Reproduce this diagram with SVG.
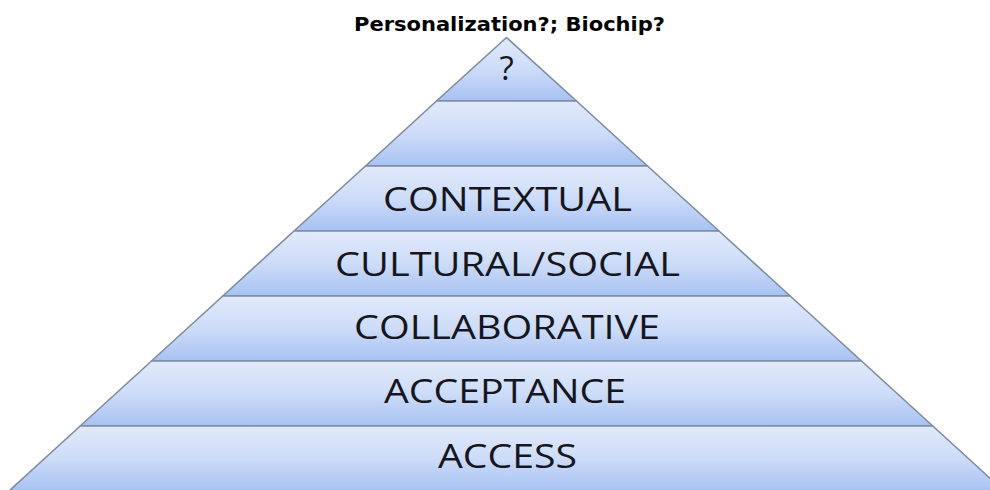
<svg xmlns="http://www.w3.org/2000/svg" width="990" height="490" viewBox="0 0 990 490">
  <defs>
    <linearGradient id="layerGrad" x1="0" y1="0" x2="0" y2="1">
      <stop offset="0" stop-color="#e2eafb"/>
      <stop offset="0.5" stop-color="#cddcf8"/>
      <stop offset="1" stop-color="#a7c2f2"/>
    </linearGradient>
    <style>
      .layer { fill: url(#layerGrad); stroke: #7d8ca3; stroke-width: 1.6; stroke-linejoin: round; }
      .lbl { font-family: "Open Sans", "Liberation Sans", sans-serif; font-size: 33px; fill: #15161f; text-anchor: middle; }
      .title { font-family: "DejaVu Sans", "Liberation Sans", sans-serif; font-weight: bold; font-size: 19px; fill: #000000; text-anchor: middle; }
    </style>
  </defs>
  <rect width="990" height="490" fill="#ffffff"/>

  <g id="title">
    <text class="title" x="509.5" y="31" textLength="311" lengthAdjust="spacingAndGlyphs">Personalization?; Biochip?</text>
  </g>

  <g id="layer-top">
    <polygon class="layer" points="506.5,37.5 576.5,101 436.5,101"/>
    <text class="lbl" x="506.5" y="80" font-size="32">?</text>
  </g>
  <g id="layer-blank">
    <polygon class="layer" points="436.5,101 576.5,101 647.5,166 365.5,166"/>
  </g>
  <g id="layer-contextual">
    <polygon class="layer" points="365.5,166 647.5,166 719,231 294,231"/>
    <text class="lbl" x="507.5" y="211" textLength="249" lengthAdjust="spacingAndGlyphs">CONTEXTUAL</text>
  </g>
  <g id="layer-cultural">
    <polygon class="layer" points="294,231 719,231 790.2,296 222.8,296"/>
    <text class="lbl" x="507.5" y="276" textLength="345" lengthAdjust="spacingAndGlyphs">CULTURAL/SOCIAL</text>
  </g>
  <g id="layer-collaborative">
    <polygon class="layer" points="222.8,296 790.2,296 861.5,361 151.5,361"/>
    <text class="lbl" x="507" y="339" textLength="306" lengthAdjust="spacingAndGlyphs">COLLABORATIVE</text>
  </g>
  <g id="layer-acceptance">
    <polygon class="layer" points="151.5,361 861.5,361 932.8,426 80.2,426"/>
    <text class="lbl" x="505" y="403" textLength="242" lengthAdjust="spacingAndGlyphs">ACCEPTANCE</text>
  </g>
  <g id="layer-access">
    <polygon class="layer" points="80.2,426 932.8,426 1004,491 9,491"/>
    <text class="lbl" x="507.5" y="468" textLength="139" lengthAdjust="spacingAndGlyphs">ACCESS</text>
  </g>

  <g id="connectors"></g>
</svg>
